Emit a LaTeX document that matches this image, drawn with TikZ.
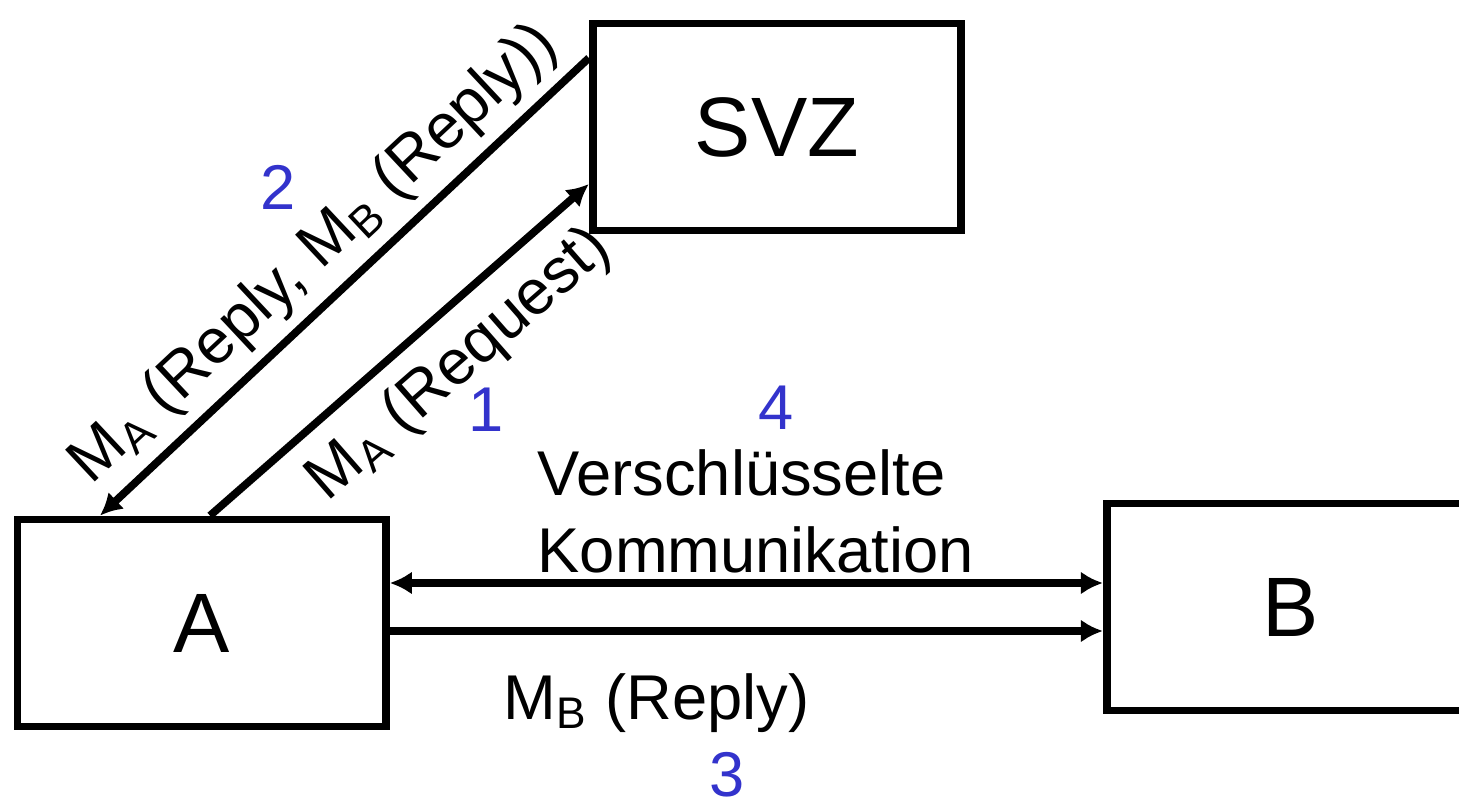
\documentclass[tikz,border=0pt]{standalone}
\usepackage{fontspec}
\setmainfont{Liberation Sans}
\usepackage{tikz}
\usetikzlibrary{arrows.meta,positioning,calc}
\tikzset{>={Latex[length=2.2mm,width=2.3mm]}}
\definecolor{stepblue}{RGB}{51,51,204}

\begin{document}
\begin{tikzpicture}[
    box/.style={draw, line width=2.2pt, minimum width=3.685cm, minimum height=2.07cm, font=\fontsize{24}{28}\selectfont},
    msg/.style={line width=2.2pt},
    lbl/.style={font=\fontsize{18}{21.8}\selectfont, inner sep=2pt},
    num/.style={font=\fontsize{18}{21.8}\selectfont, text=stepblue, inner sep=0pt}
]
    \useasboundingbox (0,0) rectangle (14.59,-8);

    \node[box] (svz) at (7.77,-1.27) {SVZ}; % directory service
    \node[box] (a) at (2.017,-6.23) {A};
    \node[box] (b) at (12.91,-6.07) {B};

    \draw[->, msg] ([xshift=0.83mm]a.north) -- node[lbl, sloped, below, pos=0.57, inner sep=5pt] (req) {M\textsubscript{A} (Request)} ([yshift=-5.7mm]svz.west);
    \draw[<-, msg] ([xshift=-10.17mm]a.north) -- node[lbl, sloped, above, pos=0.5, inner sep=3pt] (rep) {M\textsubscript{A} (Reply, M\textsubscript{B} (Reply))} ([yshift=6.9mm]svz.west);
    \draw[->, msg] ([yshift=-0.8mm]a.east) -- ([yshift=-2.4mm]b.west);
    \draw[<->, msg] ([yshift=4mm]a.east) -- ([yshift=2.4mm]b.west);

    \node[lbl, anchor=base west, inner sep=0pt] (repb) at (5.03,-7.19) {M\textsubscript{B} (Reply)};
    \node[lbl, anchor=base west, align=left, inner sep=0pt] (crypt) at (5.37,-5.72) {Verschlüsselte\\Kommunikation}; % base = last line

    % step numbers
    \node[num] (n1) at (4.86,-4.10) {1};
    \node[num] (n2) at (2.78,-1.87) {2};
    \node[num] (n3) at (7.27,-7.75) {3};
    \node[num] (n4) at (7.76,-4.08) {4};
\end{tikzpicture}
\end{document}
